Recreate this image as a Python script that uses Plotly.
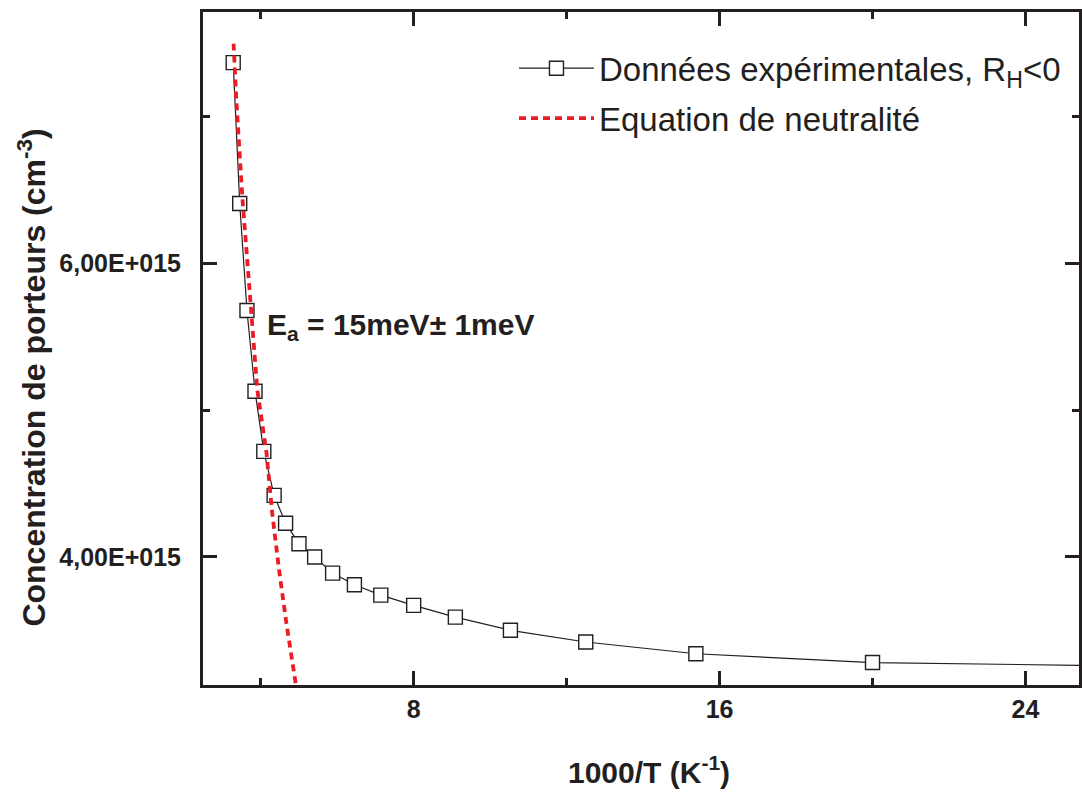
import plotly.graph_objects as go

# Experimental data: 1000/T (K^-1) and carrier concentration (cm^-3)
inv_T = [3.28, 3.45, 3.64, 3.85, 4.08, 4.35, 4.65, 5.00, 5.41, 5.88, 6.45,
         7.14, 8.00, 9.09, 10.53, 12.50, 15.38, 20.00, 28.57]
conc = [7.37e15, 6.41e15, 5.68e15, 5.13e15, 4.72e15, 4.42e15, 4.23e15, 4.09e15,
        4.00e15, 3.89e15, 3.81e15, 3.74e15, 3.67e15, 3.59e15, 3.50e15, 3.42e15,
        3.34e15, 3.28e15, 3.25e15]

# Neutrality equation fit
fit_x = [3.29, 3.36, 3.52, 3.68, 3.91, 4.15, 4.30, 4.48, 4.67, 4.93]
fit_y = [7.50e15, 7.12e15, 6.45e15, 5.89e15, 5.14e15, 4.71e15, 4.30e15, 3.91e15,
         3.55e15, 3.11e15]

y_tickvals = [4e15, 6e15]
y_ticktext = ["4,00E+015", "6,00E+015"]
x_tickvals = [8, 16, 24]

INK = "#231f20"
FONT = "Liberation Sans, Arial, sans-serif"

fig = go.Figure()
fig.add_trace(go.Scatter(
    x=inv_T, y=conc, mode="lines+markers",
    name="Données expérimentales, R<sub>H</sub>&lt;0",
    line=dict(color=INK, width=1.2),
    marker=dict(symbol="square", size=14, color="white",
                line=dict(color=INK, width=1.4)),
    legendgroup="a",
))
fig.add_trace(go.Scatter(
    x=fit_x, y=fit_y, mode="lines",
    name="Equation de neutralité",
    line=dict(color="#ec1c24", width=3.8, dash="7px,5px"),
    legendgroup="b",
))

axis_common = dict(
    showline=True, linewidth=3, linecolor=INK, mirror="ticks",
    ticks="inside", ticklen=14, tickwidth=2.5, tickcolor=INK,
    showgrid=False, zeroline=False,
)

fig.update_layout(
    width=1082, height=792,
    margin=dict(l=203, r=0, t=12, b=107),
    paper_bgcolor="white", plot_bgcolor="white",
    font=dict(family=FONT, color=INK),
    xaxis=dict(range=[2.49, 25.4], tickmode="array", tickvals=x_tickvals,
               ticklabelstandoff=0,
               tickfont=dict(family=FONT, size=25, color=INK, weight="bold"),
               minor=dict(dtick=4, tick0=0, ticks="inside", ticklen=7,
                          tickwidth=2.5, tickcolor=INK),
               **axis_common),
    yaxis=dict(range=[3.127e15, 7.715e15], tickmode="array",
               tickvals=y_tickvals, ticktext=y_ticktext,
               ticklabelstandoff=14,
               tickfont=dict(family=FONT, size=25, color=INK, weight="bold"),
               minor=dict(dtick=1e15, tick0=0, ticks="inside", ticklen=7,
                          tickwidth=2.5, tickcolor=INK),
               **axis_common),
    legend=dict(x=0.355, y=0.958, xanchor="left", yanchor="top",
                bgcolor="rgba(0,0,0,0)", font=dict(family=FONT, size=33, color=INK),
                itemwidth=75, tracegroupgap=4, traceorder="grouped"),
    showlegend=True,
)

fig.add_annotation(text="<b>1000/T (K<sup>-1</sup>)</b>", xref="paper", yref="paper",
                   x=0.509, y=-0.127, xanchor="center", yanchor="middle",
                   showarrow=False, font=dict(family=FONT, size=30, color=INK))
fig.add_annotation(text="<b>Concentration de porteurs (cm<sup>-3</sup>)</b>",
                   xref="paper", yref="paper", x=-0.195, y=0.457, textangle=-90,
                   xanchor="center", yanchor="middle",
                   showarrow=False, font=dict(family=FONT, size=32, color=INK))
fig.add_annotation(text="<b>E<sub>a</sub> = 15meV± 1meV</b>", xref="paper", yref="paper",
                   x=0.0705, y=0.532, xanchor="left", yanchor="middle",
                   showarrow=False, font=dict(family=FONT, size=30, color=INK))

fig.write_html("out.html", config={"displayModeBar": False},
               post_script="document.body.style.margin='0';")
